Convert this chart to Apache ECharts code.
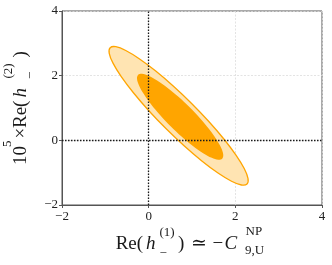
<!DOCTYPE html>
<html>
<head>
<meta charset="utf-8">
<script src="https://cdn.jsdelivr.net/npm/echarts@6/dist/echarts.min.js"></script>
<style>
html,body{margin:0;padding:0;background:#fff;}
#chart{width:332px;height:265px;}
</style>
</head>
<body>
<div id="chart"></div>
<script>
// tick values
const xTicks = [-2, 0, 2, 4];
const yTicks = [-2, 0, 2, 4];
// outer (light) contour boundary
const outerX = [2.270, 2.292, 2.205, 2.015, 1.735, 1.383, 0.985, 0.566, 0.156, -0.218, -0.529, -0.758,
                -0.888, -0.910, -0.823, -0.633, -0.352, -0.001, 0.398, 0.817, 1.227, 1.600, 1.912, 2.140];
const outerY = [-1.351, -1.178, -0.873, -0.457, 0.042, 0.590, 1.149, 1.681, 2.150, 2.525, 2.779, 2.895,
                2.865, 2.692, 2.387, 1.971, 1.472, 0.924, 0.365, -0.167, -0.637, -1.011, -1.265, -1.381];
// inner (dark) contour boundary
const innerX = [1.697, 1.721, 1.677, 1.568, 1.402, 1.190, 0.946, 0.687, 0.431, 0.195, -0.005, -0.155,
                -0.245, -0.269, -0.225, -0.116, 0.050, 0.262, 0.506, 0.765, 1.021, 1.257, 1.457, 1.607];
const innerY = [-0.569, -0.449, -0.248, 0.019, 0.334, 0.676, 1.021, 1.347, 1.630, 1.852, 1.998, 2.056,
                2.024, 1.904, 1.704, 1.437, 1.122, 0.780, 0.434, 0.108, -0.175, -0.397, -0.542, -0.601];
// reference (zero) lines
const zeroLineX = 0;
const zeroLineY = 0;

const chart = echarts.init(document.getElementById('chart'), null, {renderer: 'canvas'});
const fmt = v => (v < 0 ? '\u2212' + Math.abs(v) : String(v));
const serif = '"Liberation Serif", "DejaVu Serif", serif';

function contourSeries(xs, ys, fill, stroke, z) {
  return {
    type: 'custom',
    z: z,
    silent: true,
    data: xs.map((x, i) => [x, ys[i]]),
    renderItem: function (params, api) {
      if (params.dataIndex !== 0) return null;
      const pts = xs.map((x, i) => api.coord([x, ys[i]]));
      return {
        type: 'polygon',
        shape: {points: pts, smooth: 0.35},
        style: {fill: fill, stroke: stroke, lineWidth: stroke ? 1.3 : 0}
      };
    }
  };
}

function txt(s, x, y, size, italic) {
  return {type: 'text', x: x, y: y, silent: true,
    style: {text: s, font: (italic ? 'italic ' : '') + size + 'px ' + serif,
            fill: '#1a1a1a', align: 'left', verticalAlign: 'middle'}};
}

const option = {
  animation: false,
  grid: {left: 62, right: 10, top: 11, bottom: 60, show: true, borderColor: '#555', borderWidth: 1},
  xAxis: {
    type: 'value', min: xTicks[0], max: xTicks[xTicks.length - 1], interval: 2,
    axisLine: {show: true, onZero: false, lineStyle: {color: '#555', width: 1}},
    axisTick: {show: true, length: 3, lineStyle: {color: '#555'}},
    axisLabel: {formatter: fmt, fontFamily: serif, fontSize: 13, color: '#222', margin: 5},
    splitLine: {show: true, lineStyle: {color: '#dcdcdc', type: [2, 1.5], width: 0.8}}
  },
  yAxis: {
    type: 'value', min: yTicks[0], max: yTicks[yTicks.length - 1], interval: 2,
    axisLine: {show: true, onZero: false, lineStyle: {color: '#555', width: 1}},
    axisTick: {show: true, length: 3, lineStyle: {color: '#555'}},
    axisLabel: {formatter: fmt, fontFamily: serif, fontSize: 13, color: '#222', margin: 4},
    splitLine: {show: true, lineStyle: {color: '#dcdcdc', type: [2, 1.5], width: 0.8}}
  },
  series: [
    contourSeries(outerX, outerY, '#FFE4B2', '#FFA500', 2),
    contourSeries(innerX, innerY, '#FFA500', null, 3),
    {
      type: 'line', data: [], z: 5, silent: true,
      markLine: {
        silent: true, symbol: 'none', animation: false,
        label: {show: false},
        lineStyle: {color: '#1a1a1a', type: [1.5, 1.5], width: 1.3},
        data: [{xAxis: zeroLineX}, {yAxis: zeroLineY}]
      }
    }
  ],
  graphic: [
    // x axis title: Re(h_-^(1)) ≃ -C_{9,U}^{NP}
    txt('Re(', 115.7, 244.2, 19, false),
    txt('h', 146, 244.2, 19, true),
    txt('(1)', 159.5, 232.3, 13, false),
    txt('\u2212', 159.5, 253.5, 13, false),
    txt(')', 178, 244.2, 19, false),
    txt('\u2243', 191, 244.2, 19, false),
    txt('\u2212', 212.5, 244.2, 19, false),
    txt('C', 224.5, 244.2, 19, true),
    txt('NP', 245.5, 231.5, 13, false),
    txt('9,U', 245, 251, 13, false),
    // y axis title: 10^5 × Re(h_-^(2))
    {
      type: 'group', x: 0, y: 165, rotation: Math.PI / 2,
      children: [
        txt('10', 0, 20.8, 19, false),
        txt('5', 18, 7.9, 13, false),
        txt('\u00d7', 26.5, 20.8, 19, false),
        txt('Re(', 37, 20.8, 19, false),
        txt('h', 67.5, 20.8, 19, true),
        txt('(2)', 86.5, 8.9, 13, false),
        txt('\u2212', 86, 30.1, 13, false),
        txt(')', 107.5, 20.8, 19, false)
      ]
    }
  ]
};
chart.setOption(option);
</script>
</body>
</html>
